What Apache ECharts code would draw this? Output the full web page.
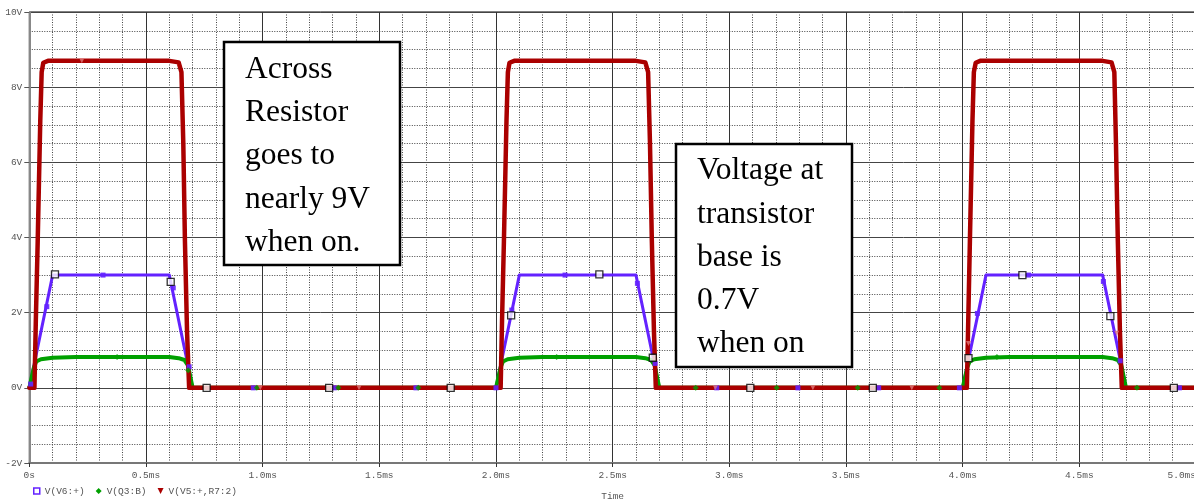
<!DOCTYPE html>
<html><head><meta charset="utf-8">
<script src="https://cdn.jsdelivr.net/npm/echarts@6/dist/echarts.min.js"></script>
<style>html,body{margin:0;padding:0;background:#fff}#c{width:1194px;height:502px}</style>
</head><body><div id="c"></div><script>
// ---- tick labels ----
const xTickLabels = ['0s','0.5ms','1.0ms','1.5ms','2.0ms','2.5ms','3.0ms','3.5ms','4.0ms','4.5ms','5.0ms'];
const yTickLabels = ['-2V','0V','2V','4V','6V','8V','10V'];
const seriesNames = ['V(V6:+)','V(Q3:B)','V(V5:+,R7:2)'];

// ---- V(V6:+) (ms, V) ----
const blueT = [0,0.1,0.6,0.7,2.0,2.1,2.6,2.7,4.0,4.1,4.6,4.7,5.0];
const blueV = [0,3,3,0,0,3,3,0,0,3,3,0,0];

// ---- V(Q3:B) ----
const greenT = [0,0.02,0.03,0.05,0.1,0.2,0.6,0.64,0.665,0.68,0.7,
                2.0,2.02,2.03,2.05,2.1,2.2,2.6,2.64,2.665,2.68,2.7,
                4.0,4.02,4.03,4.05,4.1,4.2,4.6,4.64,4.665,4.68,4.7,5.0];
const greenV = [0,0.55,0.7,0.76,0.8,0.82,0.82,0.79,0.74,0.6,0,
                0,0.55,0.7,0.76,0.8,0.82,0.82,0.79,0.74,0.6,0,
                0,0.55,0.7,0.76,0.8,0.82,0.82,0.79,0.74,0.6,0,0];

// ---- V(V5:+,R7:2) ----
const redT = [0,0.022,0.028,0.036,0.047,0.053,0.06,0.08,0.6,0.64,0.652,0.66,0.667,0.676,0.685,
              2.02,2.026,2.034,2.045,2.051,2.058,2.078,2.6,2.64,2.652,2.66,2.668,2.677,2.685,
              4.018,4.024,4.031,4.042,4.048,4.056,4.075,4.6,4.638,4.65,4.657,4.665,4.674,4.682,5.0];
const redV = [0,0,1.8,3.9,7.1,8.4,8.65,8.7,8.7,8.66,8.4,6.5,3.9,1.5,0,
              0,1.8,3.9,7.1,8.4,8.65,8.7,8.7,8.66,8.4,6.5,3.9,1.5,0,
              0,1.8,3.9,7.1,8.4,8.65,8.7,8.7,8.66,8.4,6.5,3.9,1.5,0,0];

// ---- white cursor squares ----
const whiteT = [0.11,0.606,0.76,1.285,1.806,2.065,2.443,2.672,3.09,3.615,4.025,4.256,4.633,4.905];
const whiteV = [3.02,2.82,0,0,0,1.93,3.02,0.80,0,0,0.79,3.0,1.91,0];

// ---- small trace markers ----
const blueMT = [0.006,0.075,0.316,0.617,0.685,0.96,1.307,1.657,2.0,2.068,2.296,2.606,2.682,2.946,3.294,3.64,3.986,4.063,4.282,4.603,4.675,4.929];
const blueMV = [0.1,2.16,3.0,2.66,0.56,0,0,0,0,2.07,3.0,2.78,0.65,0,0,0,0,1.98,3.0,2.83,0.72,0];
const greenMT = [0.376,0.681,0.975,1.324,1.667,2.26,2.856,3.203,3.55,3.90,4.147,4.747];
const greenMV = [0.82,0.47,0,0,0,0.82,0,0,0,0,0.82,0];
const redMT = [0.225,0.99,1.413,2.94,3.358,3.782,4.025,4.66];
const redMV = [8.7,0,0,0,0,0,1.18,1.45];

const zip = (a,b) => a.map((t,i)=>[t,b[i]]);
const C_BLUE='#6422ff', C_GREEN='#00a000', C_RED='#aa0000';
const MONO='"Liberation Mono", "DejaVu Sans Mono", monospace';
const SERIF='"Liberation Serif", "DejaVu Serif", serif';

const chart = echarts.init(document.getElementById('c'), null, {renderer:'canvas'});
chart.setOption({
  animation:false,
  backgroundColor:'#fff',
  grid:{left:29.3, right:-2, top:12, bottom:39, show:true, borderColor:'#000', borderWidth:1,
        containLabel:false, outerBoundsMode:'none'},
  legend:{
    left:28, top:481, itemWidth:6, itemHeight:6, itemGap:11,
    textStyle:{fontFamily:MONO, fontSize:9.5, color:'#555'},
    data:[
      {name:seriesNames[0], icon:'rect', itemStyle:{color:'#fff', borderColor:C_BLUE, borderWidth:1.5}},
      {name:seriesNames[1], icon:'diamond', itemStyle:{color:C_GREEN}},
      {name:seriesNames[2], icon:'path://M0,0L10,0L5,10Z', itemStyle:{color:C_RED}}
    ]
  },
  xAxis:{
    type:'value', min:0, max:5, interval:0.5,
    name:'Time', nameLocation:'middle', nameGap:33,
    nameTextStyle:{fontFamily:MONO, fontSize:9.5, color:'#555', verticalAlign:'middle'},
    axisLine:{onZero:false, lineStyle:{color:'#777', width:2}},
    axisTick:{show:true, length:4, lineStyle:{color:'#333'}},
    axisLabel:{margin:7, fontFamily:MONO, fontSize:9.5, color:'#555', alignMaxLabel:'right',
      formatter:v=>xTickLabels[Math.round(v/0.5)]},
    splitLine:{show:true, lineStyle:{color:'#333', width:1}},
    minorTick:{show:true, splitNumber:5, length:0},
    minorSplitLine:{show:true, lineStyle:{color:'#444', width:1, type:[1,1.5]}}
  },
  yAxis:{
    type:'value', min:-2, max:10, interval:2,
    axisLine:{show:true, lineStyle:{color:'#888', width:2}},
    axisTick:{show:true, length:5, lineStyle:{color:'#555'}},
    axisLabel:{margin:7, fontFamily:MONO, fontSize:9.5, color:'#555',
      formatter:v=>yTickLabels[Math.round((v+2)/2)]},
    splitLine:{show:true, lineStyle:{color:'#444', width:1}},
    minorTick:{show:true, splitNumber:4, length:0},
    minorSplitLine:{show:true, lineStyle:{color:'#444', width:1, type:[1,1.5]}}
  },
  series:[
    {name:seriesNames[0], type:'line', data:zip(blueT,blueV), showSymbol:false, z:3,
     lineStyle:{color:C_BLUE, width:3, join:'round'}, itemStyle:{color:C_BLUE}},
    {name:seriesNames[1], type:'line', data:zip(greenT,greenV), showSymbol:false, z:4,
     lineStyle:{color:C_GREEN, width:4, join:'round'}, itemStyle:{color:C_GREEN}},
    {name:seriesNames[2], type:'line', data:zip(redT,redV), showSymbol:false, z:5,
     lineStyle:{color:C_RED, width:4.5, join:'round', cap:'round'}, itemStyle:{color:C_RED}},
    {name:'bm', type:'scatter', data:zip(blueMT,blueMV), symbol:'rect', symbolSize:5, z:6,
     itemStyle:{color:C_BLUE, opacity:0.9}},
    {name:'gm', type:'scatter', data:zip(greenMT,greenMV), symbol:'diamond', symbolSize:6, z:6,
     itemStyle:{color:C_GREEN}},
    {name:'rm', type:'scatter', data:zip(redMT,redMV), symbol:'path://M0,0L10,0L5,10Z', symbolSize:5, z:6,
     itemStyle:{color:'#e07a7a'}},
    {name:'wm', type:'scatter', data:zip(whiteT,whiteV), symbol:'rect', symbolSize:7, z:7,
     itemStyle:{color:'#fff', borderColor:'#000', borderWidth:1.3}}
  ],
  graphic:[
    {type:'rect', z:100, shape:{x:224, y:42, width:176, height:223},
     style:{fill:'#fff', stroke:'#000', lineWidth:2.5}},
    {type:'text', z:101, x:245, y:47.7,
     style:{text:'Across\nResistor\ngoes to\nnearly 9V\nwhen on.', fontFamily:SERIF, fontSize:31.5, lineHeight:43.3, fill:'#000', verticalAlign:'top'}},
    {type:'rect', z:100, shape:{x:676, y:144, width:176, height:223},
     style:{fill:'#fff', stroke:'#000', lineWidth:2.5}},
    {type:'text', z:101, x:697, y:149.3,
     style:{text:'Voltage at\ntransistor\nbase is\n0.7V\nwhen on', fontFamily:SERIF, fontSize:31.5, lineHeight:43.3, fill:'#000', verticalAlign:'top'}}
  ]
});
</script></body></html>
